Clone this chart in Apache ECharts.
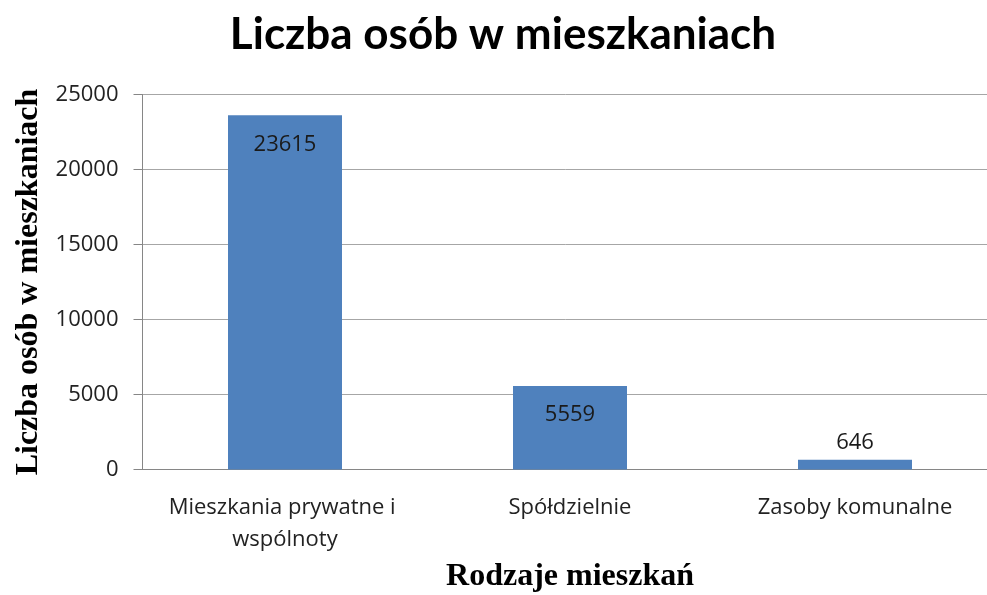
<!DOCTYPE html>
<html><head><meta charset="utf-8">
<script src="https://cdn.jsdelivr.net/npm/echarts@6/dist/echarts.min.js"></script>
<style>html,body{margin:0;padding:0;background:#fff}#c{width:987px;height:595px}</style>
</head><body><div id="c"></div>
<script>
const categories = ['Mieszkania prywatne i wspólnoty', 'Spółdzielnie', 'Zasoby komunalne'];
const values = [23615, 5559, 646];
const yTicks = [0, 5000, 10000, 15000, 20000, 25000];

const chart = echarts.init(document.getElementById('c'));
chart.setOption({
  animation: false,
  backgroundColor: '#fff',
  title: {
    text: 'Liczba osób w mieszkaniach',
    left: 498, top: 8, textAlign: 'center',
    textStyle: { fontFamily: 'Lato', fontWeight: 'bold', fontSize: 44, color: '#000' }
  },
  grid: { left: 142.5, width: 855, top: 94.5, height: 375, containLabel: false, outerBoundsMode: 'none' },
  xAxis: {
    type: 'category', data: categories,
    name: 'Rodzaje mieszkań', nameLocation: 'middle', nameGap: 90,
    nameTextStyle: { fontFamily: 'Liberation Serif', fontWeight: 'bold', fontSize: 32, color: '#000' },
    axisLine: { lineStyle: { color: '#868686', width: 1 } },
    axisTick: { show: false },
    axisLabel: { interval: 0, fontFamily: 'Open Sans', fontSize: 22, color: '#222', margin: 22, width: 275, overflow: 'break', lineHeight: 32 }
  },
  yAxis: {
    type: 'value', min: yTicks[0], max: yTicks[yTicks.length - 1], interval: 5000,
    name: 'Liczba osób w mieszkaniach', nameLocation: 'middle', nameGap: 98, nameRotate: 90,
    nameTextStyle: { fontFamily: 'Liberation Serif', fontWeight: 'bold', fontSize: 32, color: '#000' },
    axisLine: { show: true, lineStyle: { color: '#868686', width: 1 } },
    axisTick: { show: true, length: 9, lineStyle: { color: '#868686' } },
    axisLabel: { fontFamily: 'Open Sans', fontSize: 22, color: '#222', margin: 24, formatter: v => String(v) },
    splitLine: { lineStyle: { color: '#a6a6a6', width: 1 } }
  },
  series: [{
    type: 'bar', data: values.map((v, i) => ({
      value: v,
      label: { position: i < 2 ? 'insideTop' : 'top', distance: i < 2 ? 18 : 6 }
    })),
    barWidth: '40%',
    itemStyle: { color: '#4F81BD' },
    label: { show: true, fontFamily: 'Open Sans', fontSize: 22, color: '#1a1a1a' }
  }]
});
</script></body></html>
